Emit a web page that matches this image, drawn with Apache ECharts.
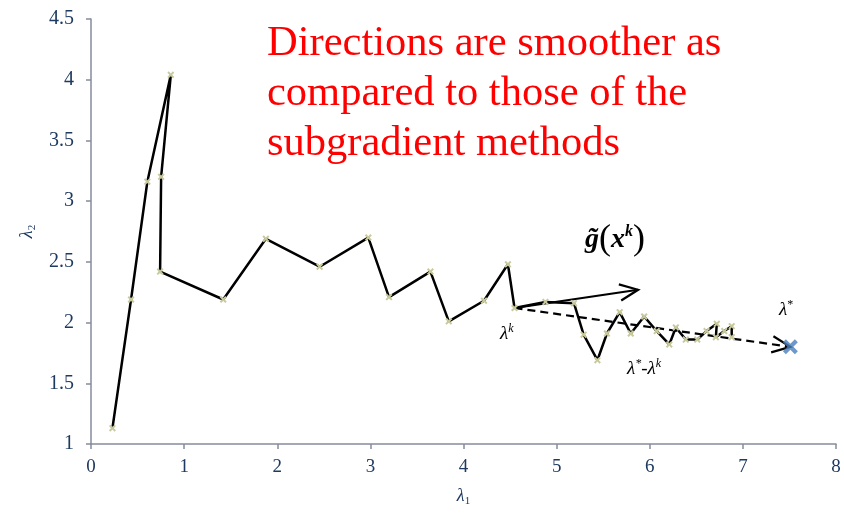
<!DOCTYPE html>
<html>
<head>
<meta charset="utf-8">
<script src="https://cdn.jsdelivr.net/npm/echarts@6/dist/echarts.min.js"></script>
<style>
  html, body { margin: 0; padding: 0; background: #fff; }
  #chart { width: 844px; height: 516px; }
</style>
</head>
<body>
<div id="chart"></div>
<script>
// Iterates of the dual variables (lambda1, lambda2)
const lambda1 = [0.23, 0.43, 0.605, 0.857, 0.753, 0.742, 1.42, 1.878, 2.455, 2.978, 3.20, 3.645, 3.842, 4.22, 4.477, 4.548,
  4.88, 5.186, 5.29, 5.438, 5.54, 5.677, 5.796, 5.94, 6.075, 6.21, 6.28, 6.387, 6.51, 6.61, 6.72, 6.71, 6.80, 6.88, 6.88];
const lambda2 = [1.13, 2.19, 3.16, 4.04, 3.20, 2.42, 2.19, 2.69, 2.46, 2.70, 2.21, 2.42, 2.01, 2.18, 2.48, 2.12,
  2.17, 2.16, 1.90, 1.69, 1.91, 2.086, 1.91, 2.05, 1.93, 1.82, 1.96, 1.86, 1.86, 1.93, 1.99, 1.88, 1.93, 1.97, 1.88];

// Optimum
const optimum = [7.51, 1.80];
// Current iterate lambda^k (index in the path)
const kIndex = 15;
// Tip of the direction g~(x^k)
const gTip = [5.875, 2.27];

const xTicks = [0, 1, 2, 3, 4, 5, 6, 7, 8];
const yTicks = [1, 1.5, 2, 2.5, 3, 3.5, 4, 4.5];

const crossPath = 'path://M2,0 L5,3 L8,0 L10,2 L7,5 L10,8 L8,10 L5,7 L2,10 L0,8 L3,5 L0,2 Z';
const axisColor = '#868b9c';
const labelColor = '#1f3a60';
const serif = '"Liberation Serif", "DejaVu Serif", serif';

const pathData = lambda1.map((x, i) => [x, lambda2[i]]);
const lamK = pathData[kIndex];

// Arrows: [start, end, dashed]
const arrows = [
  { from: lamK, to: gTip, dashed: false },
  { from: lamK, to: optimum, dashed: true }
];

const chart = echarts.init(document.getElementById('chart'));

chart.setOption({
  animation: false,
  grid: { left: 91, right: 8, top: 19, bottom: 72 },
  xAxis: {
    type: 'value', min: xTicks[0], max: xTicks[xTicks.length - 1], interval: 1,
    name: '{l|λ}{s|1}', nameLocation: 'middle', nameGap: 42,
    nameTextStyle: { rich: {
      l: { fontFamily: serif, fontStyle: 'italic', fontSize: 18, color: labelColor },
      s: { fontFamily: serif, fontSize: 11, color: labelColor, verticalAlign: 'bottom', padding: [10, 0, 0, 0] }
    } },
    axisLine: { lineStyle: { color: axisColor, width: 1.5 } },
    axisTick: { show: true, length: 5, lineStyle: { color: axisColor, width: 1.5 } },
    splitLine: { show: false },
    axisLabel: { fontFamily: serif, fontSize: 19, color: labelColor, margin: 14 }
  },
  yAxis: {
    type: 'value', min: yTicks[0], max: yTicks[yTicks.length - 1], interval: 0.5,
    name: '{l|λ}{s|2}', nameLocation: 'middle', nameGap: 45, nameRotate: 90,
    nameTextStyle: { rich: {
      l: { fontFamily: serif, fontStyle: 'italic', fontSize: 18, color: labelColor },
      s: { fontFamily: serif, fontSize: 11, color: labelColor, verticalAlign: 'bottom', padding: [10, 0, 0, 0] }
    } },
    axisLine: { show: true, lineStyle: { color: axisColor, width: 1.5 } },
    axisTick: { show: true, length: 5, lineStyle: { color: axisColor, width: 1.5 } },
    splitLine: { show: false },
    axisLabel: { fontFamily: serif, fontSize: 20, color: labelColor, margin: 17,
      formatter: v => String(v) }
  },
  series: [
    {
      type: 'custom',
      coordinateSystem: 'cartesian2d',
      data: arrows.map((a, i) => [a.from[0], a.from[1], a.to[0], a.to[1], a.dashed ? 1 : 0]),
      z: 3,
      renderItem: function (params, api) {
        const p0 = api.coord([api.value(0), api.value(1)]);
        const p1 = api.coord([api.value(2), api.value(3)]);
        const dashed = api.value(4) === 1;
        const ang = Math.atan2(p1[1] - p0[1], p1[0] - p0[0]);
        const hl = 20, ha = 0.42;
        const h1 = [p1[0] - hl * Math.cos(ang - ha), p1[1] - hl * Math.sin(ang - ha)];
        const h2 = [p1[0] - hl * Math.cos(ang + ha), p1[1] - hl * Math.sin(ang + ha)];
        return {
          type: 'group',
          children: [
            { type: 'line', shape: { x1: p0[0], y1: p0[1], x2: p1[0], y2: p1[1] },
              style: { stroke: '#000', lineWidth: 2.2, lineDash: dashed ? [8, 5] : null } },
            { type: 'polyline', shape: { points: [h1, p1, h2] },
              style: { stroke: '#000', lineWidth: 2.2, fill: null } }
          ]
        };
      }
    },
    {
      type: 'line',
      data: pathData,
      z: 4,
      lineStyle: { color: '#000', width: 2.5 },
      symbol: crossPath,
      symbolSize: 7,
      itemStyle: { color: '#c9c99e' }
    },
    {
      type: 'scatter',
      data: [optimum],
      z: 5,
      symbol: crossPath,
      symbolSize: 15,
      itemStyle: { color: '#4a7ebb' }
    }
  ],
  graphic: [
    {
      type: 'text', left: 267, top: 19,
      style: {
        text: 'Directions are smoother as\ncompared to those of the\nsubgradient methods',
        font: '42.5px ' + serif, fill: '#ff0000', lineHeight: 50
      }
    },
    {
      type: 'text', left: 500, top: 323,
      style: {
        text: '{l|λ}{s|k}',
        rich: {
          l: { fontFamily: serif, fontStyle: 'italic', fontSize: 19, fill: '#000' },
          s: { fontFamily: serif, fontStyle: 'italic', fontSize: 12, fill: '#000', verticalAlign: 'top', padding: [0, 0, 10, 0] }
        }
      }
    },
    {
      type: 'text', left: 779, top: 299,
      style: {
        text: '{l|λ}{s|*}',
        rich: {
          l: { fontFamily: serif, fontStyle: 'italic', fontSize: 19, fill: '#000' },
          s: { fontFamily: serif, fontSize: 12, fill: '#000', padding: [0, 0, 10, 0] }
        }
      }
    },
    {
      type: 'text', left: 627, top: 358,
      style: {
        text: '{l|λ}{s|*}{l|-λ}{s|k}',
        rich: {
          l: { fontFamily: serif, fontStyle: 'italic', fontSize: 19, fill: '#000' },
          s: { fontFamily: serif, fontStyle: 'italic', fontSize: 12, fill: '#000', padding: [0, 0, 10, 0] }
        }
      }
    },
    {
      type: 'text', left: 585, top: 222,
      style: {
        text: '{g|g̃}{p|(}{x|x}{s|k}{p|)}',
        rich: {
          g: { fontFamily: serif, fontStyle: 'italic', fontWeight: 'bold', fontSize: 28, fill: '#000' },
          x: { fontFamily: serif, fontStyle: 'italic', fontWeight: 'bold', fontSize: 28, fill: '#000' },
          p: { fontFamily: serif, fontSize: 36, fill: '#000' },
          s: { fontFamily: serif, fontStyle: 'italic', fontWeight: 'bold', fontSize: 16, fill: '#000', padding: [0, 0, 16, 0] }
        }
      }
    }
  ]
});
</script>
</body>
</html>
